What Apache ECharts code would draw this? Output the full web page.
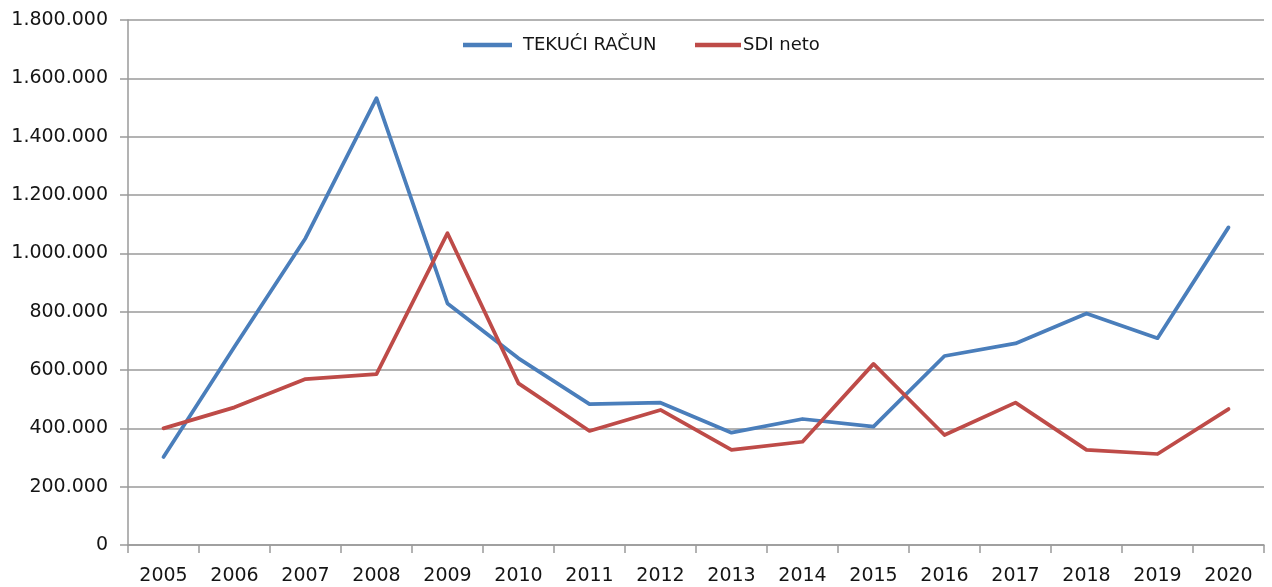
<!DOCTYPE html>
<html>
<head>
<meta charset="utf-8">
<title>Tekući račun i SDI neto</title>
<script src="https://cdn.jsdelivr.net/npm/echarts@6/dist/echarts.min.js"></script>
<style>
  html, body { margin: 0; padding: 0; background: #ffffff; }
  #chart { width: 1272px; height: 587px; }
</style>
</head>
<body>
<div id="chart"></div>
<script>
// Years on the horizontal axis
const years = ['2005', '2006', '2007', '2008', '2009', '2010', '2011', '2012',
               '2013', '2014', '2015', '2016', '2017', '2018', '2019', '2020'];

// Current account balance
const tekuciRacun = [302000, 680000, 1052000, 1532000, 828000, 640000, 483000, 488000,
                     385000, 432000, 406000, 648000, 691000, 794000, 709000, 1089000];

// Net foreign direct investment
const sdiNeto = [400000, 472000, 569000, 586000, 1069000, 554000, 391000, 463000,
                 326000, 354000, 621000, 377000, 488000, 326000, 312000, 466000];

// Value axis range
const yMin = 0;
const yMax = 1800000;
const yStep = 200000;

const seriesNames = ['TEKUĆI RAČUN', 'SDI neto'];

// Thousands separated with dots: 1800000 -> 1.800.000
function dotThousands(v) {
  return String(v).replace(/\B(?=(\d{3})+(?!\d))/g, '.');
}

const font = 'DejaVu Sans';
const textColor = '#151515';
const gridColor = '#9a9a9a';

const chart = echarts.init(document.getElementById('chart'), null, { renderer: 'canvas' });

chart.setOption({
  backgroundColor: '#ffffff',
  animation: false,
  grid: { left: 128, right: 8, top: 20, bottom: 42, containLabel: false },
  legend: [
    {
      data: [seriesNames[0]],
      left: 463, top: 36, padding: 0,
      icon: 'rect', itemWidth: 49, itemHeight: 4.5, itemGap: 0,
      textStyle: { fontFamily: font, fontSize: 18, color: textColor, padding: [0, 0, 0, 6] }
    },
    {
      data: [seriesNames[1]],
      left: 695, top: 36, padding: 0,
      icon: 'rect', itemWidth: 46, itemHeight: 4.5, itemGap: 0,
      textStyle: { fontFamily: font, fontSize: 18, color: textColor, padding: [0, 0, 0, -3] }
    }
  ],
  xAxis: {
    type: 'category',
    data: years,
    boundaryGap: true,
    axisLine: { show: true, lineStyle: { color: gridColor, width: 1.5 } },
    axisTick: { show: true, interval: 0, length: 8, alignWithLabel: false, lineStyle: { color: gridColor, width: 1.5 } },
    axisLabel: { interval: 0, margin: 22, fontFamily: font, fontSize: 19, color: textColor },
    splitLine: { show: false }
  },
  yAxis: {
    type: 'value',
    min: yMin, max: yMax, interval: yStep,
    axisLine: { show: true, lineStyle: { color: gridColor, width: 1.5 } },
    axisTick: { show: true, length: 8, lineStyle: { color: gridColor, width: 1.5 } },
    axisLabel: { margin: 20, fontFamily: font, fontSize: 19, color: textColor, formatter: dotThousands },
    splitLine: { show: true, lineStyle: { color: gridColor, width: 1.5 } }
  },
  series: [
    {
      name: seriesNames[0],
      type: 'line',
      data: tekuciRacun,
      symbol: 'none',
      color: '#4a7ebb',
      lineStyle: { width: 3.75, color: '#4a7ebb', join: 'round', cap: 'round' }
    },
    {
      name: seriesNames[1],
      type: 'line',
      data: sdiNeto,
      symbol: 'none',
      color: '#be4b48',
      lineStyle: { width: 3.75, color: '#be4b48', join: 'round', cap: 'round' }
    }
  ]
});
</script>
</body>
</html>
